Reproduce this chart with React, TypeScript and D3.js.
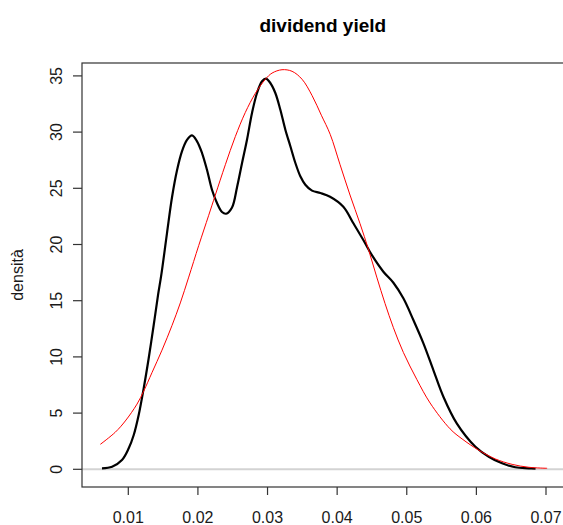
import React from "react";
import * as d3 from "d3";

// Kernel density estimate of the dividend yield (black curve)
const kdeX = [0.00622, 0.00767, 0.00909, 0.01006, 0.01078, 0.01149, 0.01221, 0.01293, 0.01365, 0.01427, 0.01474,
  0.01556, 0.01628, 0.017, 0.01772, 0.01843, 0.01915, 0.01987, 0.02059, 0.0213, 0.02202, 0.02274, 0.02346, 0.02404,
  0.0249, 0.02562, 0.02634, 0.02705, 0.02777, 0.02849, 0.02921, 0.02978, 0.0304, 0.03112, 0.03184, 0.03256, 0.03328,
  0.034, 0.03471, 0.03543, 0.03639, 0.03759, 0.03898, 0.04089, 0.04233, 0.04376, 0.04497, 0.04664, 0.04808, 0.04951,
  0.05095, 0.05239, 0.05382, 0.05526, 0.05718, 0.05986, 0.06178, 0.06369, 0.0656, 0.06753, 0.0685];
const kdeY = [0.09, 0.23, 0.83, 1.87, 3.05, 4.83, 7.2, 9.88, 12.84, 15.5, 17.29,
  21.02, 24.2, 26.6, 28.3, 29.3, 29.71, 29.18, 28.14, 26.65, 24.87, 23.69, 22.89, 22.74,
  23.3, 25.1, 27.25, 29.32, 31.7, 33.48, 34.52, 34.75, 34.37, 33.48, 31.99, 30.21, 28.74,
  27.25, 26.07, 25.32, 24.79, 24.58, 24.25, 23.36, 21.89, 20.4, 19.07, 17.58, 16.6, 15.21,
  13.28, 11.21, 8.83, 6.46, 4.09, 2.01, 1.12, 0.53, 0.18, 0.09, 0.05];

// Fitted normal density (red curve)
const normX = [0.00598, 0.00813, 0.00957, 0.01125, 0.01221, 0.0134, 0.01484, 0.01628, 0.01747, 0.01868,
  0.02011, 0.02155, 0.0225, 0.02394, 0.02537, 0.02681, 0.02825, 0.02969, 0.03065, 0.03208, 0.03352, 0.03496,
  0.0364, 0.03773, 0.039, 0.04042, 0.04185, 0.04329, 0.04448, 0.04569, 0.04688, 0.04808, 0.04951, 0.05144,
  0.05335, 0.05622, 0.05795, 0.06034, 0.06273, 0.06513, 0.06753, 0.07016];
const normY = [2.22, 3.3, 4.3, 5.8, 6.95, 8.6, 10.6, 12.8, 14.8, 17.1,
  19.9, 22.6, 24.4, 27.1, 29.6, 31.75, 33.45, 34.7, 35.25, 35.55, 35.41, 34.7,
  33.25, 31.5, 29.8, 27.1, 24.4, 21.85, 19.6, 17.1, 14.75, 12.6, 10.4, 8.0,
  5.9, 3.6, 2.7, 1.7, 0.92, 0.44, 0.18, 0.09];

const xTicks = [0.01, 0.02, 0.03, 0.04, 0.05, 0.06, 0.07];
const yTicks = [0, 5, 10, 15, 20, 25, 30, 35];

const title = "dividend yield";
const yTitle = "densità";

const W = 563;
const H = 525;
const box = { left: 82, top: 63, right: 570, bottom: 487 };

export default function App() {
  const x = d3.scaleLinear().domain([0.01, 0.07]).range([128.3, 546]);
  const y = d3.scaleLinear().domain([0, 35]).range([469.3, 75.9]);

  const line = d3
    .line<[number, number]>()
    .x((d) => x(d[0]))
    .y((d) => y(d[1]))
    .curve(d3.curveCatmullRom.alpha(0.5));

  const kdePts = kdeX.map((v, i) => [v, kdeY[i]] as [number, number]);
  const normPts = normX.map((v, i) => [v, normY[i]] as [number, number]);

  const font = "'Liberation Sans', Arial, sans-serif";

  return (
    <svg
      width={W}
      height={H}
      style={{ position: "absolute", left: 0, top: 0, background: "#fff" }}
      fontFamily={font}
    >
      <rect width={W} height={H} fill="#fff" />
      {/* zero baseline */}
      <line x1={box.left} x2={box.right} y1={y(0)} y2={y(0)} stroke="#d3d3d3" strokeWidth={2} />
      {/* density curves */}
      <path d={line(kdePts) ?? ""} fill="none" stroke="#000" strokeWidth={2.2} strokeLinejoin="round" />
      <path d={line(normPts) ?? ""} fill="none" stroke="#ff0000" strokeWidth={1} />
      {/* plot frame */}
      <rect
        x={box.left}
        y={box.top}
        width={box.right - box.left}
        height={box.bottom - box.top}
        fill="none"
        stroke="#333"
        strokeWidth={1.2}
      />
      {/* x axis */}
      {xTicks.map((t) => (
        <g key={"x" + t}>
          <line x1={x(t)} x2={x(t)} y1={box.bottom} y2={box.bottom + 8} stroke="#333" strokeWidth={1.2} />
          <text x={x(t)} y={523} textAnchor="middle" fontSize={16} fill="#1a1a1a">
            {d3.format(".2f")(t)}
          </text>
        </g>
      ))}
      {/* y axis */}
      {yTicks.map((t) => (
        <g key={"y" + t}>
          <line x1={box.left - 9} x2={box.left} y1={y(t)} y2={y(t)} stroke="#333" strokeWidth={1.2} />
          <text
            transform={`translate(62,${y(t)}) rotate(-90)`}
            textAnchor="middle"
            fontSize={16}
            fill="#1a1a1a"
          >
            {t}
          </text>
        </g>
      ))}
      <text
        transform={`translate(23.3,${(box.top + box.bottom) / 2}) rotate(-90)`}
        textAnchor="middle"
        fontSize={16}
        fill="#1a1a1a"
      >
        {yTitle}
      </text>
      <text x={322.8} y={32} textAnchor="middle" fontSize={19} fontWeight="bold" fill="#000">
        {title}
      </text>
    </svg>
  );
}
